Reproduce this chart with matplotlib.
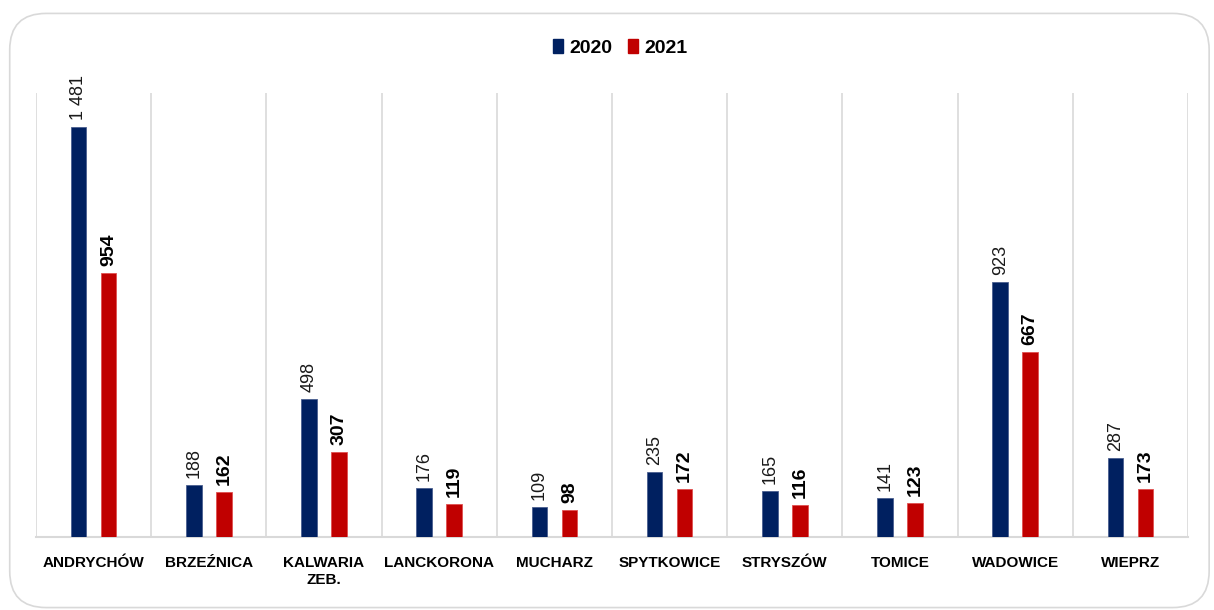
import numpy as np
from matplotlib import pyplot as plt
from matplotlib.patches import FancyBboxPatch, Patch

# data
gminy = ['ANDRYCHÓW', 'BRZEŹNICA', 'KALWARIA\nZEB.', 'LANCKORONA', 'MUCHARZ',
         'SPYTKOWICE', 'STRYSZÓW', 'TOMICE', 'WADOWICE', 'WIEPRZ']
v2020 = [1481, 188, 498, 176, 109, 235, 165, 141, 923, 287]
v2021 = [954, 162, 307, 119, 98, 172, 116, 123, 667, 173]

NAVY = '#002060'
RED = '#C00000'
plt.rcParams['font.family'] = ['Liberation Sans', 'DejaVu Sans']

def fmt(v):
    # polish thousands separator (space)
    return f'{v:,}'.replace(',', ' ')

fig = plt.figure(figsize=(12.14, 6.10), dpi=100)

# rounded frame around the whole chart
frame = FancyBboxPatch((0.008, 0.004), 0.988, 0.974, boxstyle='round,pad=0,rounding_size=0.03',
                       transform=fig.transFigure, fc='none', ec='#d9d9d9', lw=1.2,
                       mutation_aspect=1214/610, zorder=-1)
fig.patches.append(frame)

ax = fig.add_axes([0.0297, 0.1197, 0.9489, 0.7278])
ax.set_facecolor('none')

x = np.arange(len(gminy))
w = 0.135
off = 0.13
b1 = ax.bar(x - off, v2020, w, color=NAVY, edgecolor='#4a5f8f', lw=0.6, zorder=3)
b2 = ax.bar(x + off, v2021, w, color=RED, edgecolor='#e05050', lw=0.6, zorder=3)

for r, v in zip(b1, v2020):
    ax.annotate(fmt(v), (r.get_x() + r.get_width() / 2, r.get_height()), xytext=(0, 5),
                textcoords='offset points', rotation=90, ha='center', va='bottom',
                fontsize=13, color='#1a1a1a')
for r, v in zip(b2, v2021):
    ax.annotate(fmt(v), (r.get_x() + r.get_width() / 2, r.get_height()), xytext=(0, 5),
                textcoords='offset points', rotation=90, ha='center', va='bottom',
                fontsize=14, fontweight='bold', color='black')

ax.set_xlim(-0.5, len(gminy) - 0.5)
ax.set_ylim(0, 1604)

# vertical separators between categories
for b in np.arange(-0.5, len(gminy), 1.0):
    ax.axvline(b, color='#d9d9d9', lw=1.2, zorder=1)

ax.set_xticks(x)
ax.set_xticklabels(gminy, fontsize=11, fontweight='bold', linespacing=1.2)
ax.tick_params(axis='x', length=0, pad=14)
ax.set_yticks([])
for s in ['top', 'right', 'left']:
    ax.spines[s].set_visible(False)
ax.spines['bottom'].set_color('#d9d9d9')
ax.spines['bottom'].set_linewidth(1.5)

handles = [Patch(color=NAVY, label='2020'), Patch(color=RED, label='2021')]
fig.legend(handles=handles, loc='center', bbox_to_anchor=(0.511, 0.922), ncol=2, frameon=False,
           prop={'weight': 'bold', 'size': 14},
           handlelength=0.5, handleheight=0.75, handletextpad=0.35, columnspacing=0.8)

fig.savefig('out.png', dpi=100, facecolor='white')
